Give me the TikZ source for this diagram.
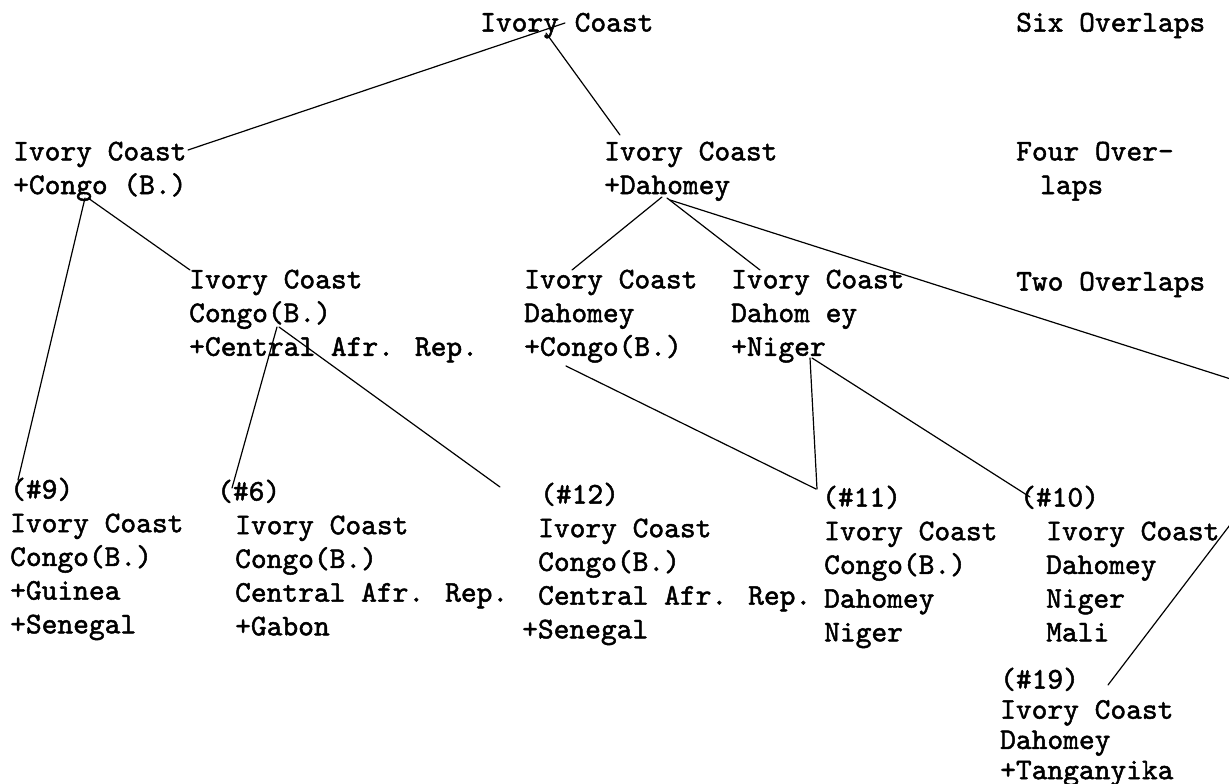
\documentclass[tikz,border=0pt]{standalone}
\usepackage{fontspec}
% typewriter face, thickened a little like struck ink
\newfontfamily\typewriter{lmmono10-regular}[Extension=.otf, FakeBold=1.6]
\begin{document}
\begin{tikzpicture}[x=1pt,y=-1pt,
  lbl/.style={anchor=north west, inner sep=0pt, align=left,
    font=\fontsize{30}{33.7}\selectfont\typewriter,
    execute at begin node={\vphantom{(}}},
  tight/.style={font=\fontsize{30}{30.2}\selectfont\typewriter},
  link/.style={line width=1.2pt, line cap=round}]
\clip (0,0) rectangle (1229,784);
\newcommand{\ind}[1]{\hspace*{#1pt}}

% level headings on the right
\node[lbl] (six)  at (1016,10.5)  {Six Overlaps};
\node[lbl] (four) at (1016,141.5) {Four Over-\\\ind{24}laps};
\node[lbl] (two)  at (1016,269.5) {Two Overlaps};

% tree nodes
\node[lbl] (top) at (480,10.5) {Ivory Coast};
\node[lbl] (n2L) at (13,141.5)  {Ivory Coast\\+Congo (B.)};
\node[lbl] (n2R) at (604,141.5) {Ivory Coast\\+Dahomey};
\node[lbl] (n3a) at (189,269.5) {Ivory Coast\\Congo(B.)\\+Central Afr. Rep.};
\node[lbl] (n3b) at (524,269.5) {Ivory Coast\\Dahomey\\+Congo(B.)};
\node[lbl] (n3c) at (731,269.5) {Ivory Coast\\Dahom ey\\+Niger};
\node[lbl] (n9)  at (10,477.5)  {(\#9)\\Ivory Coast\\Congo(B.)\\+Guinea\\+Senegal};
\node[lbl] (n6)  at (217,479.5) {(\#6)\\\ind{18}Ivory Coast\\\ind{18}Congo(B.)\\\ind{18}Central Afr. Rep.\\\ind{18}+Gabon};
\node[lbl] (n12) at (522,482.5) {\ind{18}(\#12)\\\ind{16}Ivory Coast\\\ind{16}Congo(B.)\\\ind{16}Central Afr. Rep.\\+Senegal};
\node[lbl] (n11) at (822,485.5) {(\#11)\\\ind{2}Ivory Coast\\\ind{2}Congo(B.)\\\ind{2}Dahomey\\\ind{2}Niger};
\node[lbl] (n10) at (1020,485.5) {(\#10)\\\ind{26}Ivory Coast\\\ind{26}Dahomey\\\ind{26}Niger\\\ind{26}Mali};
\node[lbl,tight] (n19) at (1000,667.5) {(\#19)\\Ivory Coast\\Dahomey\\+Tanganyika};

% branches continuing past the right edge
\coordinate (offA) at (1262,389);
\coordinate (offB) at (1252,496);

% connectors
\draw[link] ([shift={(85,12.5)}]top.north west) -- ([shift={(175,8.5)}]n2L.north west);
\draw[link] ([shift={(66,22.5)}]top.north west) -- ([shift={(16,-6.5)}]n2R.north west);
\draw[link] ([shift={(72,56.5)}]n2L.north west) -- ([shift={(8,2.5)}]n9.north west);
\draw[link] ([shift={(75,56.5)}]n2L.north west) -- ([shift={(1,0.5)}]n3a.north west);
\draw[link] ([shift={(58,55.5)}]n2R.north west) -- ([shift={(48,0.5)}]n3b.north west);
\draw[link] ([shift={(63,56.5)}]n2R.north west) -- ([shift={(29,0.5)}]n3c.north west);
\draw[link] ([shift={(66,58.5)}]n2R.north west) -- (offA);
\draw[link] ([shift={(88,57.5)}]n3a.north west) -- ([shift={(15,8.5)}]n6.north west);
\draw[link] ([shift={(90,57.5)}]n3a.north west) -- ([shift={(-22,4.5)}]n12.north west);
\draw[link] ([shift={(42,96.5)}]n3b.north west) -- ([shift={(-6,3.5)}]n11.north west);
\draw[link] ([shift={(79,88.5)}]n3c.north west) -- ([shift={(-5,3.5)}]n11.north west);
\draw[link] ([shift={(81,88.5)}]n3c.north west) -- ([shift={(10,11.5)}]n10.north west);
\draw[link] ([shift={(108,17.5)}]n19.north west) -- (offB);
\end{tikzpicture}
\end{document}
